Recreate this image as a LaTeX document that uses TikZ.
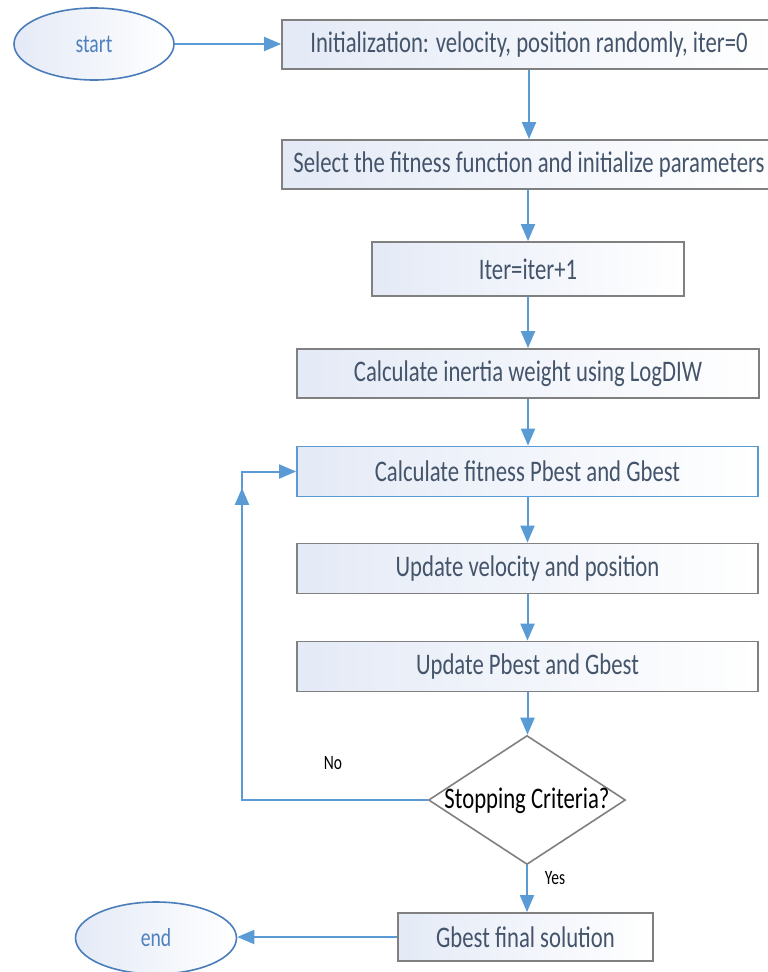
\documentclass[tikz,border=0pt]{standalone}
\usepackage{fontspec}
\setmainfont{Carlito}[FakeStretch=0.76]
\usetikzlibrary{arrows.meta,shapes.geometric,decorations.markings,calc}
\definecolor{lineblue}{RGB}{91,155,213}
\definecolor{ellborder}{RGB}{74,126,187}
\definecolor{elltext}{RGB}{79,129,189}
\definecolor{boxtext}{RGB}{68,84,106}
\definecolor{boxborder}{RGB}{128,128,128}
\definecolor{boxfill}{RGB}{228,234,246}
\tikzset{
  procbox/.style={rectangle, draw=boxborder, line width=1.8bp, left color=boxfill, right color=white,
    text=boxtext, inner sep=0pt, font=\fontsize{30}{34}\selectfont},
  termnode/.style={ellipse, draw=ellborder, line width=1.6bp, left color=boxfill, right color=white,
    text=elltext, inner sep=0pt, minimum width=160bp, minimum height=72bp, font=\fontsize{26}{30}\selectfont},
  decbox/.style={diamond, draw=boxborder, line width=1.6bp, fill=white, inner sep=0pt,
    minimum width=197bp, minimum height=129bp},
  conn/.style={draw=lineblue, line width=2bp, -{Triangle[length=17bp,width=14bp]}},
  lbl/.style={font=\fontsize{20.5}{24}\selectfont, text=black, inner sep=0pt}
}
\begin{document}
\begin{tikzpicture}[x=1bp,y=-1bp]
\useasboundingbox (0,0) rectangle (768,972);
\node[termnode] (start) at (94,44) {start};
\node[procbox, minimum width=494bp, minimum height=49bp] (init) at (529,44.5) {Initialization: velocity, position randomly, iter=0};
\node[procbox, minimum width=494bp, minimum height=49bp] (select) at (529,164.5) {Select the fitness function and initialize parameters};
\node[procbox, minimum width=312bp, minimum height=54bp] (iter) at (528,269) {Iter=iter+1};
\node[procbox, minimum width=462bp, minimum height=49bp] (inertia) at (528,373.5) {Calculate inertia weight using LogDIW};
\node[procbox, draw=lineblue, minimum width=461bp, minimum height=50bp] (fitness) at (527.5,471.5) {Calculate fitness Pbest and Gbest};
\node[procbox, minimum width=461bp, minimum height=50bp] (velocity) at (527.5,568.5) {Update velocity and position};
\node[procbox, minimum width=461bp, minimum height=50bp] (pbest) at (527.5,666.5) {Update Pbest and Gbest};
\node[decbox] (dia) at (527,800) {};
\node[font=\fontsize{30}{34}\selectfont, text=black, inner sep=0pt] (diatext) at (527,801) {Stopping Criteria?};
\node[procbox, minimum width=255bp, minimum height=48bp] (gbest) at (525.5,937) {Gbest final solution};
\node[termnode, minimum width=161bp] (end) at (156,938) {end};
\node[lbl] (nolbl) at (333,763) {No};
\node[lbl] (yeslbl) at (555,878) {Yes};
\coordinate (cornerB) at (242,800);
\coordinate (cornerT) at (cornerB |- fitness.west);

\draw[conn] (start.east) -- (start.east -| init.west);
\draw[conn] (init.south -| select.north) -- (select.north);
\draw[conn] (select.south -| iter.north) -- (iter.north);
\draw[conn] (iter.south) -- (iter.south |- inertia.north);
\draw[conn] (inertia.south) -- (inertia.south |- fitness.north);
\draw[conn] (fitness.south) -- (velocity.north);
\draw[conn] (velocity.south) -- (pbest.north);
\draw[conn] (pbest.south) -- (pbest.south |- dia.north);
\draw[conn] (dia.south) -- (dia.south |- gbest.north);
\draw[conn] (gbest.west) -- (gbest.west -| end.east);
\draw[conn, postaction={decorate, decoration={markings, mark=at position 0.876 with {\arrow{Triangle[length=17bp,width=14bp]}}}}]
  (dia.west) -- (cornerB) -- (cornerT) -- (fitness.west);
\end{tikzpicture}
\end{document}
